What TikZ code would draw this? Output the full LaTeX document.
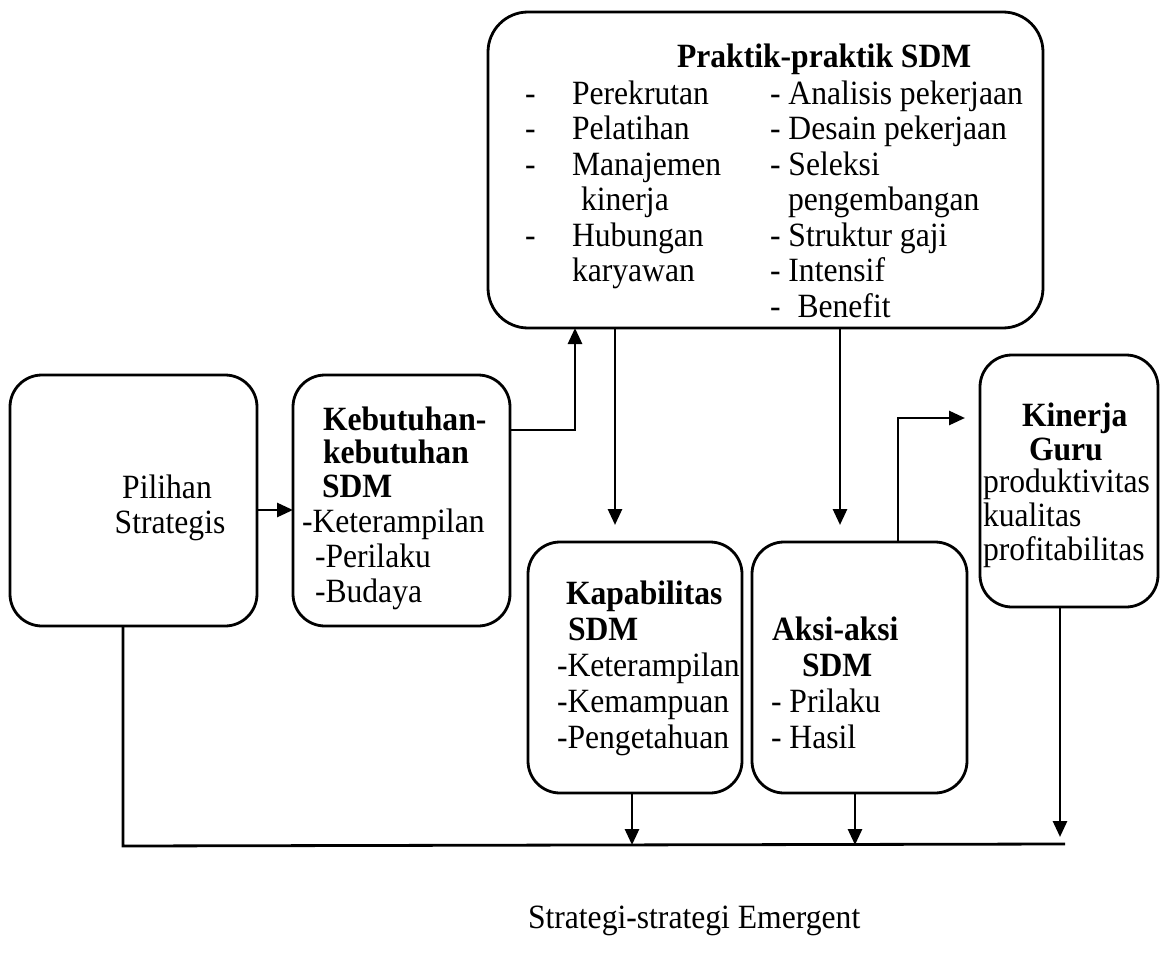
\documentclass[tikz,border=0pt]{standalone}
\usepackage{fontspec}
\setmainfont[FakeStretch=0.93]{Liberation Serif}
\usetikzlibrary{arrows.meta}
\tikzset{
  box/.style={draw, line width=2.8pt, rounded corners=32pt, inner sep=0pt, outer sep=0pt},
  txt/.style={anchor=base west, inner sep=0pt, outer sep=0pt, font=\fontsize{34}{36}\selectfont},
  ctxt/.style={txt, anchor=base},
  btxt/.style={txt, font=\fontsize{34}{36}\selectfont\bfseries},
  arr/.style={line width=2.8pt, -{Triangle[length=16pt,width=14pt]}},
  ln/.style={line width=2.8pt},
}
\begin{document}
\begin{tikzpicture}[x=1pt,y=-1pt]
\useasboundingbox (0,0) rectangle (1160,966);
% boxes
\node[box, minimum width=247pt, minimum height=251pt] (pil) at (133.5,500.5) {};
\node[box, minimum width=217pt, minimum height=251pt] (keb) at (401.5,500.5) {};
\node[box, rounded corners=40pt, minimum width=555pt, minimum height=316pt] (prak) at (765.5,170) {};
\node[box, minimum width=214pt, minimum height=251pt] (kap) at (635,667.5) {};
\node[box, minimum width=215pt, minimum height=251pt] (aksi) at (859.5,667.5) {};
\node[box, minimum width=178pt, minimum height=252pt] (kin) at (1069,481) {};
% Pilihan
\node[ctxt] (pil1) at (167,498) {Pilihan};
\node[ctxt] (pil2) at (170,533) {Strategis};
% Kebutuhan
\node[btxt] (keb1) at (323,430) {Kebutuhan-};
\node[btxt] (keb2) at (323,463) {kebutuhan};
\node[btxt] (keb3) at (322,497) {SDM};
\node[txt] (keb4) at (302,532) {-Keterampilan};
\node[txt] (keb5) at (315,567) {-Perilaku};
\node[txt] (keb6) at (315,602) {-Budaya};
% Praktik
\node[btxt] (pr0) at (677,68) {Praktik-praktik SDM};
\node[txt] (pd1) at (525,104) {-};
\node[txt] (pd2) at (525,139.5) {-};
\node[txt] (pd3) at (525,175) {-};
\node[txt] (pd5) at (525,246) {-};
\node[txt] (pl1) at (572,104) {Perekrutan};
\node[txt] (pl2) at (572,139.5) {Pelatihan};
\node[txt] (pl3) at (572,175) {Manajemen};
\node[txt] (pl4) at (581,210.5) {kinerja};
\node[txt] (pl5) at (572,246) {Hubungan};
\node[txt] (pl6) at (572,281.5) {karyawan};
\node[txt] (pr1) at (770,104) {- Analisis pekerjaan};
\node[txt] (pr2) at (770,139.5) {- Desain pekerjaan};
\node[txt] (pr3) at (770,175) {- Seleksi};
\node[txt] (pr4) at (788,210.5) {pengembangan};
\node[txt] (pr5) at (770,246) {- Struktur gaji};
\node[txt] (pr6) at (770,281.5) {- Intensif};
\node[txt] (pr7) at (770,317) {-\hspace{0.5em}Benefit};
% Kapabilitas
\node[btxt] (kap1) at (566,604) {Kapabilitas};
\node[btxt] (kap2) at (568,640) {SDM};
\node[txt] (kap3) at (557,676) {-Keterampilan};
\node[txt] (kap4) at (557,712) {-Kemampuan};
\node[txt] (kap5) at (557,748) {-Pengetahuan};
% Aksi
\node[btxt] (ak1) at (772,640) {Aksi-aksi};
\node[btxt] (ak2) at (802,676) {SDM};
\node[txt] (ak3) at (771,712) {- Prilaku};
\node[txt] (ak4) at (771,748) {- Hasil};
% Kinerja
\node[btxt] (kin1) at (1022,426) {Kinerja};
\node[btxt] (kin2) at (1029,460) {Guru};
\node[txt] (kin3) at (983,492) {produktivitas};
\node[txt] (kin4) at (983,526) {kualitas};
\node[txt] (kin5) at (983,560) {profitabilitas};
% caption
\node[txt] (cap) at (528,928) {Strategi-strategi Emergent};
% helper coordinates
\coordinate (ya) at (0,510);
\coordinate (xk) at (575,430);
\coordinate (xa) at (615,525);
\coordinate (xb) at (840,525);
\coordinate (xc) at (898,418);
\coordinate (tc) at (965,418);
\coordinate (bl) at (123,846);
\coordinate (br) at (1065,844);
\coordinate (b1) at (632,845);
\coordinate (b2) at (855,845);
\coordinate (b3) at (1060,837);
% connectors
\draw[arr] (pil.east |- ya) -- (keb.west |- ya);
\draw[arr] (keb.east |- xk) -- (xk) -- (prak.south -| xk);
\draw[arr] (prak.south -| xa) -- (xa);
\draw[arr] (prak.south -| xb) -- (xb);
\draw[arr] (aksi.north -| xc) -- (xc) -- (tc);
\draw[ln] (pil.south -| bl) -- (bl) -- (br);
\draw[arr] (kap.south -| b1) -- (b1);
\draw[arr] (aksi.south -| b2) -- (b2);
\draw[arr] (kin.south -| b3) -- (b3);
\end{tikzpicture}
\end{document}
